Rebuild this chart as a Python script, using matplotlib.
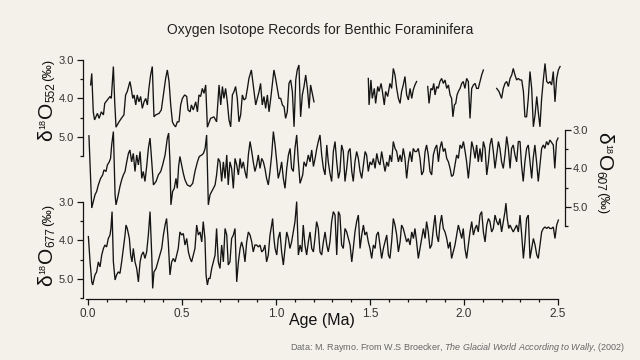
import numpy as np
import matplotlib
matplotlib.use('Agg')
import matplotlib.pyplot as plt
from matplotlib.ticker import FixedLocator, FixedFormatter

plt.rcParams['font.family'] = ['Liberation Sans', 'DejaVu Sans']
plt.rcParams['mathtext.fontset'] = 'custom'
plt.rcParams['mathtext.rm'] = 'Liberation Sans'
plt.rcParams['mathtext.it'] = 'Liberation Sans:italic'
plt.rcParams['mathtext.bf'] = 'Liberation Sans:bold'

# ---------------- data (age in Ma, d18O in permil) ----------------
# Site 552 (top), gaps marked with None
site552_age = [
    0.014, 0.020, 0.028, 0.035, 0.050, 0.059, 0.071, 0.082, 0.089, 0.103, 0.117, 0.124, 0.135, 0.142,
    0.149, 0.165, 0.183, 0.191, 0.200, 0.209, 0.223, 0.230, 0.238, 0.245, 0.254, 0.262, 0.271, 0.280,
    0.289, 0.298, 0.307, 0.316, 0.324, 0.333, 0.342, 0.351, 0.360, 0.378, 0.390, 0.401, 0.413, 0.422,
    0.431, 0.440, 0.449, 0.457, 0.466, 0.475, 0.484, 0.493, 0.502, 0.514, 0.525, 0.532, 0.543, 0.550,
    0.560, 0.573, 0.582, 0.590, 0.599, 0.608, 0.617, 0.626, 0.635, 0.652, 0.670, 0.684, 0.697, 0.706,
    0.715, 0.723, 0.732, 0.741, 0.750, 0.759, 0.768, 0.777, 0.785, 0.794, 0.803, 0.812, 0.821, 0.830,
    0.839, 0.848, 0.856, 0.869, 0.883, 0.892, 0.901, 0.910, 0.918, 0.927, 0.936, 0.945, 0.954, 0.963,
    0.972, 0.980, 0.989, 0.998, 1.007, 1.016, 1.025, 1.034, 1.043, 1.051, 1.060, 1.069, 1.078, 1.087,
    1.096, 1.105, 1.113, 1.122, 1.131, 1.140, 1.149, 1.158, 1.167, 1.176, 1.184, 1.193, 1.202,
    None,
    1.491, 1.495, 1.505, 1.512, 1.523, 1.530, 1.541, 1.548, 1.559, 1.566, 1.576, 1.583, 1.594, 1.606,
    1.615, 1.624, 1.633, 1.642, 1.651, 1.660, 1.668, 1.677, 1.686, 1.695, 1.704, 1.713, 1.722, 1.730,
    1.739, 1.748,
    None,
    1.807, 1.814, 1.824, 1.832, 1.839, 1.846, 1.855, 1.863, 1.872, 1.881, 1.890, 1.899, 1.908, 1.917,
    1.926, 1.934, 1.941, 1.949, 1.956, 1.963, 1.970, 1.979, 1.988, 1.996, 2.005, 2.014, 2.023, 2.032,
    2.041, 2.050, 2.059, 2.067, 2.076, 2.085, 2.094, 2.103,
    None,
    2.174, 2.186, 2.200, 2.209, 2.218, 2.227, 2.236, 2.245, 2.254, 2.262, 2.271, 2.280, 2.289, 2.298,
    2.307, 2.316, 2.324, 2.333, 2.342, 2.351, 2.360, 2.369, 2.378, 2.387, 2.395, 2.404, 2.413, 2.422,
    2.431, 2.440, 2.449, 2.457, 2.466, 2.475, 2.484, 2.493, 2.502, 2.511,
]
site552_d18o = [
    3.65, 3.35, 4.35, 4.56, 4.39, 4.52, 4.35, 4.43, 4.13, 4.04, 3.95, 4.00, 3.17, 4.09,
    4.75, 4.61, 4.48, 4.43, 3.91, 3.82, 3.56, 3.74, 4.00, 3.91, 4.17, 3.91, 4.09, 3.95,
    4.26, 4.09, 4.00, 4.17, 3.74, 3.39, 3.17, 4.48, 4.43, 4.39, 4.30, 3.91, 3.48, 3.26,
    3.56, 4.17, 4.61, 4.69, 4.74, 4.61, 4.61, 4.17, 4.00, 3.91, 3.95, 4.30, 4.35, 4.17,
    4.30, 4.09, 4.35, 3.91, 3.95, 3.74, 3.87, 3.65, 4.75, 4.52, 4.48, 4.61, 3.65, 4.17,
    3.69, 4.00, 3.74, 4.09, 4.56, 4.74, 3.91, 3.82, 3.69, 4.00, 4.61, 4.43, 3.91, 4.04,
    4.00, 3.74, 3.48, 3.26, 3.82, 4.17, 4.00, 3.82, 3.61, 4.17, 3.95, 4.26, 3.91, 4.35,
    4.00, 3.65, 3.26, 3.48, 3.74, 4.00, 4.00, 4.17, 4.22, 4.52, 4.35, 3.61, 3.52, 3.82,
    4.74, 3.52, 3.26, 3.13, 4.48, 3.91, 3.69, 3.39, 3.74, 4.26, 3.65, 3.87, 4.09,
    None,
    3.48, 4.17, 3.52, 4.00, 3.74, 4.13, 3.69, 3.82, 3.61, 3.82, 4.17, 3.82, 3.95, 3.61,
    3.74, 3.22, 3.39, 3.74, 4.00, 4.13, 3.82, 3.65, 3.43, 3.91, 4.04, 3.74, 4.00, 3.78,
    3.65, 3.56,
    None,
    3.69, 4.13, 3.74, 3.78, 3.61, 3.91, 3.69, 3.74, 3.56, 3.48, 3.61, 3.52, 3.74, 3.65,
    3.91, 4.00, 4.48, 4.17, 4.13, 3.91, 3.82, 3.74, 3.61, 3.56, 3.74, 3.48, 3.56, 4.52,
    3.74, 3.65, 3.61, 3.74, 3.74, 3.56, 3.39, 3.26,
    None,
    3.74, 3.82, 4.00, 3.74, 3.61, 3.56, 3.69, 3.48, 3.39, 3.22, 3.39, 3.52, 3.48, 3.52,
    3.52, 3.82, 4.48, 4.48, 4.00, 3.30, 3.74, 4.74, 4.43, 3.95, 4.35, 4.74, 4.00, 3.52,
    3.09, 3.56, 3.61, 3.56, 3.65, 3.30, 4.09, 3.48, 3.26, 3.17,
]

# Site 607 (middle)
site607_age = [
    0.005, 0.020, 0.037, 0.046, 0.055, 0.067, 0.078, 0.085, 0.096, 0.103, 0.113, 0.120, 0.126, 0.135,
    0.144, 0.149, 0.161, 0.170, 0.179, 0.188, 0.197, 0.206, 0.215, 0.223, 0.232, 0.241, 0.250, 0.259,
    0.268, 0.277, 0.286, 0.294, 0.303, 0.312, 0.321, 0.330, 0.339, 0.348, 0.362, 0.374, 0.387, 0.397,
    0.410, 0.422, 0.429, 0.436, 0.441, 0.450, 0.459, 0.468, 0.475, 0.482, 0.489, 0.498, 0.507, 0.516,
    0.528, 0.543, 0.557, 0.569, 0.582, 0.592, 0.605, 0.614, 0.623, 0.631, 0.640, 0.649, 0.658, 0.667,
    0.676, 0.684, 0.693, 0.702, 0.711, 0.720, 0.729, 0.738, 0.746, 0.755, 0.764, 0.773, 0.782, 0.791,
    0.800, 0.809, 0.817, 0.826, 0.835, 0.844, 0.853, 0.862, 0.871, 0.879, 0.888, 0.897, 0.906, 0.915,
    0.924, 0.933, 0.941, 0.950, 0.959, 0.968, 0.977, 0.986, 0.995, 1.004, 1.012, 1.021, 1.030, 1.039,
    1.048, 1.057, 1.066, 1.075, 1.083, 1.092, 1.101, 1.110, 1.119, 1.128, 1.142, 1.149, 1.160, 1.172,
    1.181, 1.190, 1.199, 1.208, 1.217, 1.225, 1.234, 1.243, 1.252, 1.261, 1.270, 1.278, 1.287, 1.296,
    1.305, 1.314, 1.323, 1.332, 1.340, 1.349, 1.358, 1.367, 1.376, 1.385, 1.394, 1.403, 1.411, 1.420,
    1.429, 1.438, 1.447, 1.456, 1.465, 1.474, 1.482, 1.491, 1.500, 1.509, 1.518, 1.527, 1.536, 1.545,
    1.553, 1.562, 1.571, 1.580, 1.589, 1.598, 1.606, 1.615, 1.624, 1.633, 1.642, 1.651, 1.660, 1.668,
    1.677, 1.686, 1.695, 1.704, 1.713, 1.722, 1.730, 1.739, 1.748, 1.757, 1.766, 1.775, 1.784, 1.793,
    1.801, 1.810, 1.819, 1.828, 1.837, 1.846, 1.855, 1.864, 1.872, 1.881, 1.890, 1.899, 1.908, 1.917,
    1.926, 1.934, 1.943, 1.952, 1.961, 1.970, 1.979, 1.988, 1.997, 2.006, 2.014, 2.023, 2.032, 2.041,
    2.050, 2.059, 2.067, 2.076, 2.085, 2.094, 2.103, 2.112, 2.121, 2.130, 2.138, 2.147, 2.156, 2.165,
    2.174, 2.183, 2.191, 2.200, 2.209, 2.218, 2.227, 2.236, 2.245, 2.253, 2.262, 2.271, 2.280, 2.289,
    2.298, 2.306, 2.315, 2.324, 2.333, 2.342, 2.351, 2.360, 2.368, 2.377, 2.386, 2.395, 2.404, 2.413,
    2.422, 2.430, 2.439, 2.448, 2.457, 2.475, 2.483, 2.492, 2.500,
]
site607_d18o = [
    3.15, 5.03, 4.69, 4.60, 4.43, 4.26, 4.17, 4.04, 4.08, 3.91, 3.83, 3.74, 3.39, 3.04,
    4.69, 4.95, 4.69, 4.47, 4.30, 4.17, 4.08, 3.83, 3.61, 3.52, 3.83, 3.61, 4.08, 3.65,
    3.91, 3.56, 4.26, 4.08, 4.34, 3.95, 3.48, 3.21, 3.83, 4.43, 4.34, 4.17, 4.08, 3.91,
    3.65, 3.21, 3.08, 3.83, 4.95, 4.60, 4.52, 4.26, 4.52, 3.95, 3.69, 3.91, 4.13, 4.30,
    4.43, 4.47, 4.39, 4.08, 3.83, 3.69, 3.65, 3.61, 3.48, 3.13, 4.95, 4.69, 4.60, 4.52,
    4.43, 4.17, 3.74, 3.83, 4.34, 3.83, 4.26, 3.65, 4.43, 3.83, 4.00, 4.52, 3.74, 3.91,
    4.17, 3.74, 4.00, 3.83, 4.08, 4.26, 3.65, 3.30, 3.56, 3.83, 4.08, 3.91, 3.65, 4.00,
    3.74, 3.83, 4.00, 4.26, 4.43, 4.08, 3.65, 3.04, 3.39, 3.83, 4.26, 4.08, 3.83, 4.26,
    4.52, 4.00, 3.65, 3.48, 4.00, 4.08, 3.48, 3.13, 3.83, 4.39, 4.17, 3.83, 3.95, 3.65,
    3.83, 3.52, 3.95, 3.74, 3.48, 3.30, 3.13, 3.65, 4.00, 4.17, 3.39, 3.83, 4.13, 4.34,
    3.56, 3.30, 3.83, 4.26, 4.08, 3.39, 3.56, 4.34, 4.00, 3.56, 3.48, 4.08, 4.34, 3.83,
    3.56, 3.74, 4.08, 4.26, 3.91, 3.56, 3.65, 4.08, 3.83, 3.91, 3.74, 4.00, 3.61, 3.83,
    3.91, 3.56, 3.83, 4.08, 3.83, 3.95, 3.65, 3.83, 3.30, 3.48, 3.56, 3.83, 3.65, 3.83,
    3.48, 3.74, 4.26, 3.83, 3.56, 3.83, 3.48, 3.56, 3.56, 3.48, 3.74, 4.17, 4.08, 3.56,
    3.39, 3.65, 4.08, 4.17, 3.65, 3.48, 3.39, 3.83, 3.48, 3.30, 3.56, 3.48, 3.74, 3.83,
    4.00, 4.21, 4.17, 3.91, 3.65, 3.74, 3.39, 3.48, 3.30, 3.56, 3.83, 4.26, 3.83, 3.30,
    3.48, 3.74, 3.39, 3.83, 3.48, 3.83, 3.30, 3.48, 4.17, 3.83, 3.39, 3.21, 3.56, 4.00,
    3.65, 3.30, 3.48, 3.83, 4.00, 3.65, 3.17, 3.48, 4.00, 3.48, 3.39, 3.65, 3.83, 3.30,
    3.30, 3.91, 4.34, 3.83, 3.48, 3.39, 3.83, 4.26, 3.74, 3.39, 3.83, 4.34, 3.91, 3.48,
    3.39, 3.48, 3.30, 3.39, 3.26, 3.39, 4.00, 3.30, 3.21,
]

# Site 677 (bottom)
site677_age = [
    0.002, 0.011, 0.020, 0.025, 0.037, 0.046, 0.055, 0.064, 0.073, 0.082, 0.090, 0.099, 0.108, 0.117,
    0.122, 0.128, 0.135, 0.144, 0.152, 0.161, 0.170, 0.179, 0.188, 0.197, 0.202, 0.209, 0.220, 0.227,
    0.234, 0.241, 0.250, 0.259, 0.268, 0.277, 0.285, 0.294, 0.303, 0.312, 0.321, 0.330, 0.339, 0.344,
    0.351, 0.362, 0.372, 0.383, 0.392, 0.401, 0.410, 0.418, 0.427, 0.436, 0.445, 0.454, 0.463, 0.472,
    0.480, 0.489, 0.498, 0.507, 0.516, 0.525, 0.534, 0.543, 0.551, 0.560, 0.569, 0.578, 0.587, 0.596,
    0.605, 0.613, 0.622, 0.628, 0.635, 0.642, 0.649, 0.658, 0.667, 0.676, 0.684, 0.693, 0.702, 0.711,
    0.720, 0.729, 0.738, 0.746, 0.755, 0.764, 0.773, 0.782, 0.791, 0.800, 0.809, 0.817, 0.826, 0.835,
    0.844, 0.853, 0.862, 0.871, 0.879, 0.888, 0.897, 0.906, 0.915, 0.924, 0.933, 0.941, 0.950, 0.959,
    0.968, 0.977, 0.982, 0.989, 0.995, 1.004, 1.012, 1.021, 1.030, 1.039, 1.048, 1.057, 1.066, 1.074,
    1.083, 1.092, 1.101, 1.110, 1.119, 1.128, 1.137, 1.145, 1.154, 1.163, 1.172, 1.181, 1.190, 1.199,
    1.207, 1.216, 1.225, 1.234, 1.243, 1.252, 1.261, 1.270, 1.278, 1.287, 1.296, 1.305, 1.314, 1.323,
    1.332, 1.340, 1.349, 1.358, 1.367, 1.376, 1.385, 1.394, 1.403, 1.411, 1.420, 1.429, 1.438, 1.447,
    1.456, 1.465, 1.473, 1.482, 1.491, 1.500, 1.509, 1.518, 1.527, 1.535, 1.544, 1.553, 1.562, 1.571,
    1.580, 1.589, 1.598, 1.606, 1.615, 1.624, 1.633, 1.642, 1.651, 1.660, 1.668, 1.677, 1.686, 1.695,
    1.704, 1.713, 1.722, 1.731, 1.739, 1.748, 1.757, 1.766, 1.775, 1.784, 1.793, 1.801, 1.810, 1.819,
    1.828, 1.837, 1.846, 1.855, 1.864, 1.872, 1.881, 1.890, 1.899, 1.908, 1.917, 1.926, 1.934, 1.943,
    1.952, 1.961, 1.970, 1.979, 1.988, 1.996, 2.005, 2.014, 2.023, 2.032, 2.041, 2.050, 2.059, 2.067,
    2.076, 2.085, 2.094, 2.103, 2.112, 2.121, 2.130, 2.138, 2.147, 2.156, 2.165, 2.174, 2.183, 2.191,
    2.200, 2.209, 2.218, 2.223, 2.230, 2.238, 2.245, 2.253, 2.262, 2.271, 2.280, 2.289, 2.298, 2.307,
    2.316, 2.324, 2.333, 2.342, 2.351, 2.360, 2.369, 2.378, 2.387, 2.395, 2.404, 2.413, 2.422, 2.431,
    2.440, 2.449, 2.457, 2.466, 2.475, 2.484, 2.493, 2.502,
]
site677_d18o = [
    3.90, 4.56, 5.08, 5.16, 4.90, 4.82, 4.56, 4.69, 4.38, 4.21, 4.12, 4.17, 3.95, 3.86,
    3.69, 3.25, 4.56, 5.03, 4.90, 4.82, 4.86, 4.56, 4.21, 3.86, 3.60, 3.69, 3.95, 4.38,
    4.56, 4.21, 4.56, 4.73, 5.08, 4.56, 4.38, 4.30, 4.47, 4.30, 3.86, 3.25, 4.38, 5.25,
    4.82, 4.73, 4.56, 4.38, 4.21, 3.86, 3.60, 3.43, 4.04, 4.90, 4.56, 4.47, 4.56, 4.38,
    4.21, 3.78, 3.86, 3.82, 4.12, 3.95, 4.30, 4.47, 4.56, 4.38, 4.21, 3.60, 3.86, 3.78,
    4.04, 3.51, 3.95, 4.90, 5.16, 4.99, 4.99, 4.73, 4.56, 4.38, 3.69, 4.56, 4.73, 4.12,
    4.56, 3.69, 3.86, 4.64, 4.56, 3.95, 3.86, 3.69, 5.08, 4.56, 4.21, 4.04, 4.21, 4.56,
    4.04, 3.78, 3.86, 4.04, 4.30, 4.12, 4.12, 4.17, 4.12, 4.30, 4.25, 4.12, 4.56, 4.38,
    3.86, 3.60, 3.43, 3.95, 4.21, 4.38, 3.95, 3.78, 4.30, 4.64, 4.21, 3.78, 3.95, 4.21,
    4.04, 3.78, 3.51, 2.99, 4.38, 4.12, 4.30, 3.60, 4.12, 4.38, 4.04, 3.78, 4.21, 4.30,
    3.95, 3.51, 3.69, 4.30, 4.38, 4.04, 3.78, 4.12, 4.30, 4.04, 3.51, 3.25, 3.34, 4.38,
    3.25, 3.34, 4.12, 4.21, 3.69, 3.78, 3.95, 4.12, 4.56, 4.21, 3.78, 3.51, 3.34, 4.21,
    3.86, 3.60, 3.86, 3.78, 4.04, 4.21, 4.47, 4.12, 4.21, 3.86, 3.78, 4.12, 4.47, 4.21,
    4.04, 3.86, 4.38, 4.47, 4.04, 3.43, 3.60, 3.86, 4.30, 4.04, 3.60, 3.69, 3.86, 4.04,
    3.95, 4.12, 3.78, 3.95, 3.69, 4.04, 4.47, 4.21, 3.95, 3.69, 3.95, 3.51, 3.78, 4.21,
    4.12, 3.69, 3.34, 3.86, 4.04, 3.60, 3.34, 3.69, 3.78, 3.95, 4.21, 4.04, 4.47, 4.30,
    4.12, 3.86, 3.60, 3.78, 3.95, 3.69, 4.21, 4.47, 4.12, 3.78, 3.51, 3.86, 3.69, 3.60,
    3.78, 3.34, 3.25, 3.78, 4.04, 3.60, 3.43, 3.51, 3.78, 3.69, 3.34, 3.51, 3.60, 3.43,
    3.78, 3.51, 3.25, 3.03, 3.43, 3.69, 3.60, 3.69, 3.78, 3.69, 3.60, 3.78, 3.34, 3.86,
    4.47, 4.04, 3.43, 3.34, 4.47, 4.21, 3.95, 4.12, 4.38, 4.47, 4.12, 3.78, 3.69, 3.65,
    3.69, 3.65, 3.69, 3.69, 3.65, 3.95, 3.60, 3.47,
]

y_ticks = [3.0, 4.0, 5.0]
y_tick_labels = ['3.0', '4.0', '5.0']
y_minor = [3.5, 4.5, 5.5]
x_ticks = [0.0, 0.5, 1.0, 1.5, 2.0, 2.5]
x_tick_labels = ['0.0', '0.5', '1.0', '1.5', '2.0', '2.5']

# ---------------- layout ----------------
W, H = 640, 360
BG = '#f3f1ea'
INK = '#141414'
fig = plt.figure(figsize=(W / 100, H / 100), dpi=100, facecolor=BG)

AX_L, AX_R = 83, 565          # pixel extent of the axes boxes
X0_PX, PX_PER_MA = 88, 188.0  # age 0 at x=88 px
xlim = ((AX_L - X0_PX) / PX_PER_MA, (AX_R - X0_PX) / PX_PER_MA)


def px_axes(ytop, ybot):
    ax = fig.add_axes([AX_L / W, 1 - ybot / H, (AX_R - AX_L) / W, (ybot - ytop) / H])
    ax.set_facecolor('none')
    ax.set_xlim(*xlim)
    ax.set_ylim(5.5, 3.0)
    for s in ax.spines.values():
        s.set_visible(False)
        s.set_linewidth(0.9)
        s.set_color(INK)
    ax.set_xticks([])
    return ax


def style_y(ax, side):
    ax.spines[side].set_visible(True)
    ax.spines[side].set_bounds(3.0, 5.5)
    ax.yaxis.set_major_locator(FixedLocator(y_ticks))
    ax.yaxis.set_major_formatter(FixedFormatter(y_tick_labels))
    ax.yaxis.set_minor_locator(FixedLocator(y_minor))
    if side == 'right':
        ax.yaxis.tick_right()
        pad = 1.0
    else:
        ax.yaxis.tick_left()
        pad = 2.0
    ax.tick_params(axis='y', which='major', direction='out', length=4.5, width=0.9,
                   color=INK, labelsize=8, labelcolor='#333333', pad=pad)
    ax.tick_params(axis='y', which='minor', direction='out', length=2.5, width=0.9, color=INK)


def to_arr(v):
    return np.array([np.nan if a is None else a for a in v], dtype=float)


ax_top = px_axes(60, 156)
ax_mid = px_axes(130, 226)
ax_bot = px_axes(202, 298)
style_y(ax_top, 'left')
style_y(ax_mid, 'right')
style_y(ax_bot, 'left')

# x axis on the bottom panel
ax_bot.spines['bottom'].set_visible(True)
ax_bot.spines['bottom'].set_bounds(-0.01, 2.5)
ax_bot.spines['bottom'].set_position(('outward', 1))
ax_bot.set_xticks(x_ticks)
ax_bot.set_xticklabels(x_tick_labels)
ax_bot.set_xticks(np.round(np.arange(0, 2.51, 0.1), 2), minor=True)
ax_bot.tick_params(axis='x', which='major', direction='out', length=4, width=0.9,
                   color=INK, labelsize=8.5, labelcolor='#333333', pad=2)
ax_bot.tick_params(axis='x', which='minor', direction='out', length=2.5, width=0.9, color=INK)

for ax, a, v in [(ax_top, site552_age, site552_d18o),
                 (ax_mid, site607_age, site607_d18o),
                 (ax_bot, site677_age, site677_d18o)]:
    ax.plot(to_arr(a), to_arr(v), color=INK, lw=0.95, clip_on=False, solid_joinstyle='miter')

# ---------------- text ----------------
fig.text(0.5, 1 - 30 / H, 'Oxygen Isotope Records for Benthic Foraminifera',
         ha='center', va='center', fontsize=10, color='#222222')
fig.text(322 / W, 1 - 321 / H, 'Age (Ma)', ha='center', va='center', fontsize=11.5, color='#111111')
fig.text(625 / W, 1 - 348 / H,
         r'Data: M. Raymo. From W.S Broecker, $\mathit{The\ Glacial\ World\ According\ to\ Wally}$, (2002)',
         ha='right', va='center', fontsize=6.45, color='#666666')

fig.canvas.draw()
renderer = fig.canvas.get_renderer()


def ylabel(x_base, y_start, sub, rot):
    """Rotated label built piece by piece: big δ and O, small super/subscripts."""
    pieces = [('δ', 15, 0.0), ('18', 6.5, 7.0), ('O', 15, 0.0), (sub, 8.5, -2.0), ('(‰)', 9.5, 1.0)]
    pos = y_start
    for txt, fs, shift in pieces:
        x = x_base - shift if rot == 90 else x_base + shift
        t = fig.text(x / W, 1 - pos / H, txt, rotation=rot, rotation_mode='anchor',
                     ha='left', va='baseline', fontsize=fs, color='#111111')
        bb = t.get_window_extent(renderer)
        if rot == 90:
            pos = H - bb.y1 - 0.5
        else:
            pos = H - bb.y0 + 0.5


ylabel(52, 141, '552', 90)
ylabel(598, 132, '607', 270)
ylabel(52, 286, '677', 90)

fig.savefig('out.png', dpi=100, facecolor=BG)
